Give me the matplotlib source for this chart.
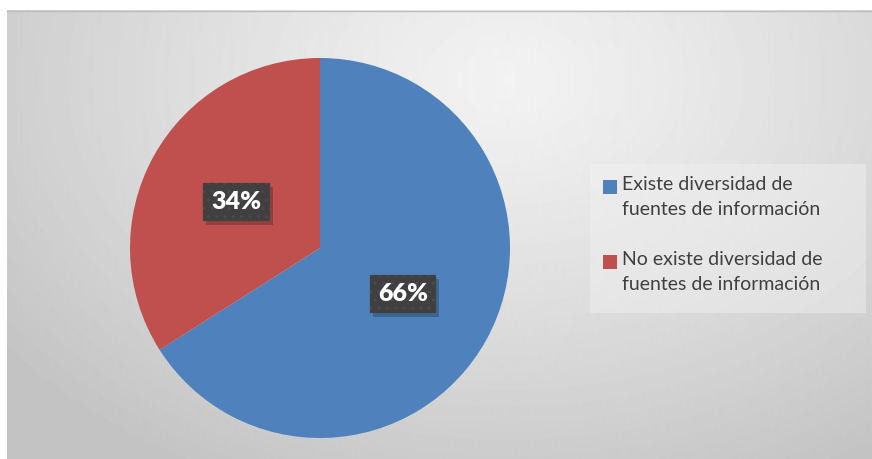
import numpy as np
import matplotlib.pyplot as plt
from matplotlib.patches import Rectangle
from matplotlib.transforms import IdentityTransform

W, H = 872, 459

categories = ["Existe diversidad de\nfuentes de información",
              "No existe diversidad de\nfuentes de información"]
shares = [66, 34]
colors = ["#4f81bd", "#c0504d"]

plt.rcParams["font.family"] = ["Lato", "DejaVu Sans"]

fig = plt.figure(figsize=(W / 100, H / 100), dpi=100)
fig.patch.set_facecolor("white")

# chart area with a soft radial gradient
bg = fig.add_axes([7 / W, 0, 1 - 7 / W, 1 - 10 / H])
bg.set_axis_off()
gx, gy = np.meshgrid(np.arange(W - 7), np.arange(H - 10))
cx, cy = 500, 70
d = np.sqrt(((gx - cx) / 640) ** 2 + ((gy - cy) / 450) ** 2)
d = np.clip(d, 0, 1)
light, dark = 0.95, 0.765
img = light + (dark - light) * d ** 1.2
bg.imshow(img, cmap="gray", vmin=0, vmax=1, aspect="auto",
          extent=[0, 1, 0, 1], origin="upper")
bg.set_xlim(0, 1)
bg.set_ylim(0, 1)
fig.add_artist(plt.Line2D([7 / W, 1], [1 - 10.5 / H] * 2, color="#bdbdbd",
                          lw=1.0, transform=fig.transFigure))

# pie
ax = fig.add_axes([130 / W, 21 / H, 380 / W, 380 / H])
ax.set_aspect("equal")
wedges, _, autotexts = ax.pie(shares, colors=colors, startangle=90,
                              counterclock=False, radius=1.0,
                              autopct=lambda p: f"{p:.0f}%", pctdistance=0.5,
                              wedgeprops=dict(linewidth=0))
ax.set_xlim(-1, 1)
ax.set_ylim(-1, 1)

for t in autotexts:
    t.set_fontsize(18)
    t.set_fontweight("heavy")
    t.set_color("white")
    t.set_bbox(dict(boxstyle="square,pad=0.33", facecolor="#404040",
                    edgecolor="#4a4a4a", linewidth=0.2, hatch=".."))
    t.set_zorder(5)

# drop shadows under the label boxes
fig.canvas.draw()
for t in autotexts:
    bb = t.get_bbox_patch().get_window_extent()
    shadow = Rectangle((bb.x0 + 3, bb.y0 - 4), bb.width, bb.height,
                       facecolor="black", alpha=0.22, linewidth=0, zorder=4)
    shadow.set_transform(IdentityTransform())
    ax.add_artist(shadow)

# legend drawn as patches and text
legend_box = Rectangle((590 / W, 1 - 313 / H), 276 / W, 149 / H,
                       transform=fig.transFigure, facecolor="#f2f2f2",
                       alpha=0.45, linewidth=0)
fig.add_artist(legend_box)
entry_top = [176, 251]
for label, c, top in zip(categories, colors, entry_top):
    fig.add_artist(Rectangle((603 / W, 1 - (top + 18) / H), 14 / W, 14 / H,
                             transform=fig.transFigure, facecolor=c,
                             linewidth=0))
    fig.text(622 / W, 1 - top / H, label, ha="left", va="top", fontsize=14,
             color="#404040", linespacing=1.55)

fig.savefig("out.png", dpi=100)
